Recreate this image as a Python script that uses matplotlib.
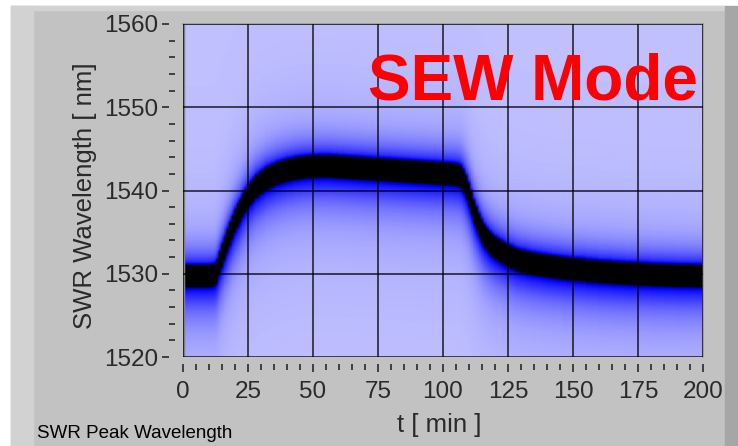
import numpy as np
import matplotlib
matplotlib.use("Agg")
import matplotlib.pyplot as plt
from matplotlib.colors import LinearSegmentedColormap
from matplotlib.patches import Rectangle
from matplotlib.ticker import MultipleLocator

# ---- data ----
time_min = [0, 5, 10, 12, 13, 14, 15, 16, 17, 18, 19, 20, 21, 22, 23, 24, 25, 26, 27, 28,
            30, 32, 34, 36, 38, 40, 43, 46, 50, 55, 60, 65, 70, 75, 80, 85, 90, 95, 100,
            104, 106, 107, 108, 109, 110, 111, 112, 113, 114, 115, 116, 117, 118, 119, 120,
            122, 124, 126, 128, 130, 134, 138, 142, 146, 150, 160, 170, 180, 190, 200]
peak_nm = [1529.8, 1529.8, 1529.8, 1529.9, 1530.3, 1531.3, 1532.2, 1533.1, 1534.0, 1534.8,
           1535.6, 1536.4, 1537.0, 1537.6, 1538.3, 1538.8, 1539.3, 1539.7, 1540.1, 1540.5,
           1541.0, 1541.5, 1541.8, 1542.1, 1542.3, 1542.5, 1542.7, 1542.85, 1542.95, 1543.0,
           1542.9, 1542.8, 1542.7, 1542.6, 1542.5, 1542.4, 1542.3, 1542.2, 1542.1,
           1542.0, 1541.9, 1541.7, 1541.2, 1540.5, 1539.6, 1538.6, 1537.5, 1536.7, 1535.9,
           1535.2, 1534.6, 1534.2, 1533.8, 1533.5, 1533.2,
           1532.8, 1532.4, 1532.1, 1531.8, 1531.6, 1531.3, 1531.1, 1530.9, 1530.75, 1530.6,
           1530.3, 1530.1, 1529.95, 1529.85, 1529.8]
x_ticks = [0, 25, 50, 75, 100, 125, 150, 175, 200]
y_ticks = [1520, 1530, 1540, 1550, 1560]

# line-shape parameters (nm)
core_halfwidth = 1.25
tail_above = 2.6
tail_below = 3.8
background = 0.13

# ---- intensity map ----
wl = np.arange(1520.0, 1560.001, 0.1)
T, L = np.meshgrid(np.array(time_min, float), wl)
d = L - np.array(peak_nm)[None, :]
w = np.where(d > 0, tail_above, tail_below)
I = (background + 0.42 * np.exp(-(d / core_halfwidth) ** 4)
     + 0.52 / (1 + (d / w) ** 2))

cmap = LinearSegmentedColormap.from_list(
    "lv", [(0.0, "#e6e6ff"), (0.12, "#c4c4ff"), (0.22, "#a4a4ff"), (0.36, "#6a6aff"),
           (0.5, "#2a2aff"), (0.58, "#0000ff"), (0.72, "#000000"), (1.0, "#000000")])

W, H = 738, 446
fig = plt.figure(figsize=(W / 100, H / 100), dpi=100, facecolor="white")

# panel background
fig.patches.append(Rectangle((11 / W, 0), (725 - 11) / W, (H - 6) / H,
                             transform=fig.transFigure, color="#c2c2c2", zorder=-10))
fig.patches.append(Rectangle((11 / W, 0), (33 - 11) / W, (H - 6) / H,
                             transform=fig.transFigure, color="#d2d2d2", zorder=-9))
fig.patches.append(Rectangle((11 / W, (H - 10) / H), (725 - 11) / W, 4 / H,
                             transform=fig.transFigure, color="#d2d2d2", zorder=-9))
fig.patches.append(Rectangle((725 / W, 0), 13 / W, (H - 6) / H,
                             transform=fig.transFigure, color="#a6a6a6", zorder=-9))

ax = fig.add_axes([183 / W, 89 / H, 520 / W, 333 / H])
ax.pcolormesh(time_min, wl, I, shading="gouraud", cmap=cmap, vmin=0, vmax=1)
ax.set_xlim(0, 200)
ax.set_ylim(1520, 1560)
ax.set_xticks(x_ticks)
ax.set_yticks(y_ticks)
ax.xaxis.set_minor_locator(MultipleLocator(5))
ax.yaxis.set_minor_locator(MultipleLocator(2))
ax.grid(True, which="major", color="black", lw=1.2, alpha=0.8)
ax.set_axisbelow(False)

font = "Liberation Sans"
tcol = "#2a2a2a"
ax.spines["left"].set_position(("outward", 10))
ax.spines["bottom"].set_position(("outward", 5))
ax.spines["left"].set_visible(False)
ax.spines["bottom"].set_visible(False)
for s in ("top", "right"):
    ax.spines[s].set_color("#9a9a9a")
    ax.spines[s].set_linewidth(1.2)
ax.axvline(0, color="#808080", lw=2.5)
ax.tick_params(axis="y", which="major", direction="out", length=5, width=1.2,
               color=tcol, pad=3, labelsize=17.5, labelcolor=tcol)
ax.tick_params(axis="y", which="minor", direction="in", length=4, width=1.2, color=tcol)
ax.tick_params(axis="x", which="major", direction="out", length=6, width=1.2,
               color=tcol, pad=6, labelsize=17.5, labelcolor=tcol)
ax.tick_params(axis="x", which="minor", direction="out", length=4, width=1.2, color=tcol)
for lab in ax.get_xticklabels() + ax.get_yticklabels():
    lab.set_fontfamily(font)

fig.text(85 / W, 0.5605, "SWR Wavelength [ nm]", rotation=90, ha="center", va="center",
         fontsize=18.5, color=tcol, family=font)
fig.text(439 / W, 21 / H, "t [ min ]", ha="center", va="center", fontsize=18.5,
         color=tcol, family=font)
fig.text(37 / W, 13 / H, "SWR Peak Wavelength", ha="left", va="center", fontsize=13.5,
         color="black", family=font)
fig.text(368 / W, (H - 100) / H, "SEW Mode", ha="left", va="baseline", fontsize=46,
         fontweight="bold", color="#ff0000", family=font)

fig.savefig("out.png", dpi=100, facecolor="white")
